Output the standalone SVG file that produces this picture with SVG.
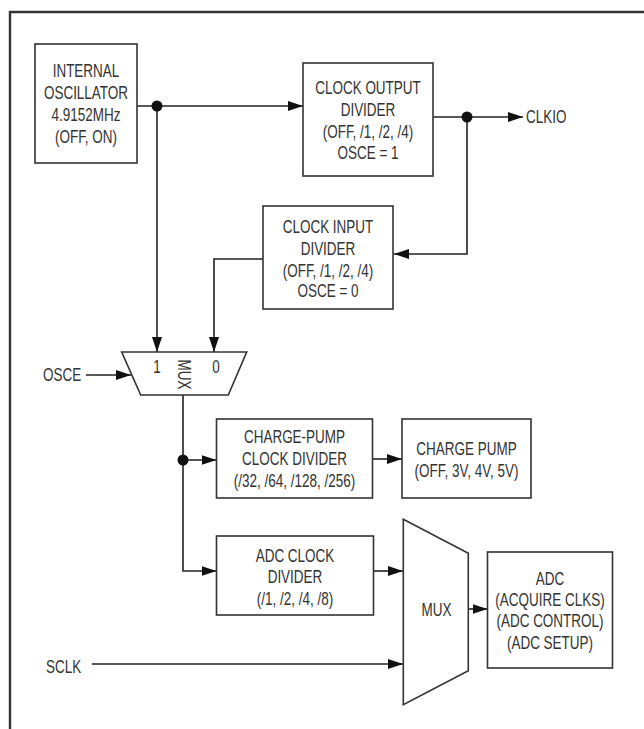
<svg xmlns="http://www.w3.org/2000/svg" width="644" height="729" viewBox="0 0 644 729">
<style>
.box{fill:#fff;stroke:#333;stroke-width:1.6}
.w{fill:none;stroke:#222;stroke-width:1.6}
.t{font-family:"Liberation Sans",Arial,sans-serif;font-size:18px;fill:#333;text-anchor:middle}
.l{text-anchor:start}
.dot{fill:#111}
</style>
<defs>
<marker id="ah" markerWidth="15" markerHeight="10" refX="15" refY="5" orient="auto" markerUnits="userSpaceOnUse"><path d="M0,0 L15,5 L0,10 z" fill="#111"/></marker>
</defs>
<rect width="644" height="729" fill="#fff"/>
<path d="M10,729 V12 H644" fill="none" stroke="#333" stroke-width="2.4"/>
<g id="connectors">
<path class="w" d="M137,106 H303" marker-end="url(#ah)"/>
<path class="w" d="M157,106 V352" marker-end="url(#ah)"/>
<path class="w" d="M433,117 H523" marker-end="url(#ah)"/>
<path class="w" d="M467,117 V254 H394" marker-end="url(#ah)"/>
<path class="w" d="M263,259 H214 V352" marker-end="url(#ah)"/>
<path class="w" d="M86,375 H131" marker-end="url(#ah)"/>
<path class="w" d="M183,395 V571 H216.5" marker-end="url(#ah)"/>
<path class="w" d="M183,460 H216.5" marker-end="url(#ah)"/>
<path class="w" d="M373,459 H402" marker-end="url(#ah)"/>
<path class="w" d="M373,571 H403" marker-end="url(#ah)"/>
<path class="w" d="M92,664 H403" marker-end="url(#ah)"/>
<path class="w" d="M468,609 H487.5" marker-end="url(#ah)"/>
<circle class="dot" cx="157" cy="106" r="5.5"/>
<circle class="dot" cx="467" cy="117" r="5.5"/>
<circle class="dot" cx="183" cy="460" r="5.5"/>
</g>
<g id="osc">
<rect class="box" x="35" y="44" width="102" height="119"/>
<g transform="matrix(.75 0 0 1 21.5 0)">
<text class="t" x="86" y="77.5">INTERNAL</text>
<text class="t" x="86" y="99.5">OSCILLATOR</text>
<text class="t" x="86" y="121.5">4.9152MHz</text>
<text class="t" x="86" y="143.5">(OFF, ON)</text>
</g>
</g>
<g id="clkout">
<rect class="box" x="303" y="63" width="130" height="113"/>
<g transform="matrix(.75 0 0 1 92 0)">
<text class="t" x="368" y="94.5">CLOCK OUTPUT</text>
<text class="t" x="368" y="116.5">DIVIDER</text>
<text class="t" x="368" y="138.5">(OFF, /1, /2, /4)</text>
<text class="t" x="368" y="159.5">OSCE = 1</text>
</g>
</g>
<g id="clkio">
<text class="t l" transform="matrix(.75 0 0 1 131.5 0)" x="526" y="123.5">CLKIO</text>
</g>
<g id="clkin">
<rect class="box" x="263" y="206" width="130" height="103"/>
<g transform="matrix(.75 0 0 1 82 0)">
<text class="t" x="328" y="233">CLOCK INPUT</text>
<text class="t" x="328" y="255">DIVIDER</text>
<text class="t" x="328" y="277">(OFF, /1, /2, /4)</text>
<text class="t" x="328" y="297.5">OSCE = 0</text>
</g>
</g>
<g id="osce">
<text class="t l" transform="matrix(.75 0 0 1 10.75 0)" x="43" y="381.5">OSCE</text>
</g>
<g id="mux1">
<path class="box" d="M121.7,352 H246.7 L228.3,395 H140.7 Z"/>
<text class="t" transform="matrix(.75 0 0 1 39.25 0)" x="157" y="373.5">1</text>
<text class="t" transform="matrix(.75 0 0 1 54 0)" x="216" y="373.5">0</text>
<text class="t" transform="translate(177.5,374.5) rotate(90) scale(.75,1)">MUX</text>
</g>
<g id="cpdiv">
<rect class="box" x="216.5" y="419" width="156" height="79"/>
<g transform="matrix(.75 0 0 1 73.625 0)">
<text class="t" x="294.5" y="443.5">CHARGE-PUMP</text>
<text class="t" x="294.5" y="465.5">CLOCK DIVIDER</text>
<text class="t" x="294.5" y="487.5">(/32, /64, /128, /256)</text>
</g>
</g>
<g id="cp">
<rect class="box" x="402" y="419" width="129" height="79"/>
<g transform="matrix(.75 0 0 1 116.625 0)">
<text class="t" x="466.5" y="455.5">CHARGE PUMP</text>
<text class="t" x="466.5" y="477.5">(OFF, 3V, 4V, 5V)</text>
</g>
</g>
<g id="adcdiv">
<rect class="box" x="216.5" y="536" width="157" height="79"/>
<g transform="matrix(.75 0 0 1 73.75 0)">
<text class="t" x="295" y="562.5">ADC CLOCK</text>
<text class="t" x="295" y="583.5">DIVIDER</text>
<text class="t" x="295" y="605.5">(/1, /2, /4, /8)</text>
</g>
</g>
<g id="sclk">
<text class="t l" transform="matrix(.75 0 0 1 11.5 0)" x="46" y="673">SCLK</text>
</g>
<g id="mux2">
<path class="box" d="M403.3,519.3 L468.3,553.3 V670.7 L403.3,704.7 Z"/>
<text class="t" transform="matrix(.75 0 0 1 109.125 0)" x="436.5" y="616">MUX</text>
</g>
<g id="adc">
<rect class="box" x="487.5" y="552" width="125" height="116"/>
<g transform="matrix(.75 0 0 1 137.5 0)">
<text class="t" x="550" y="585.5">ADC</text>
<text class="t" x="550" y="606.5">(ACQUIRE CLKS)</text>
<text class="t" x="550" y="627.5">(ADC CONTROL)</text>
<text class="t" x="550" y="649.5">(ADC SETUP)</text>
</g>
</g>
</svg>
